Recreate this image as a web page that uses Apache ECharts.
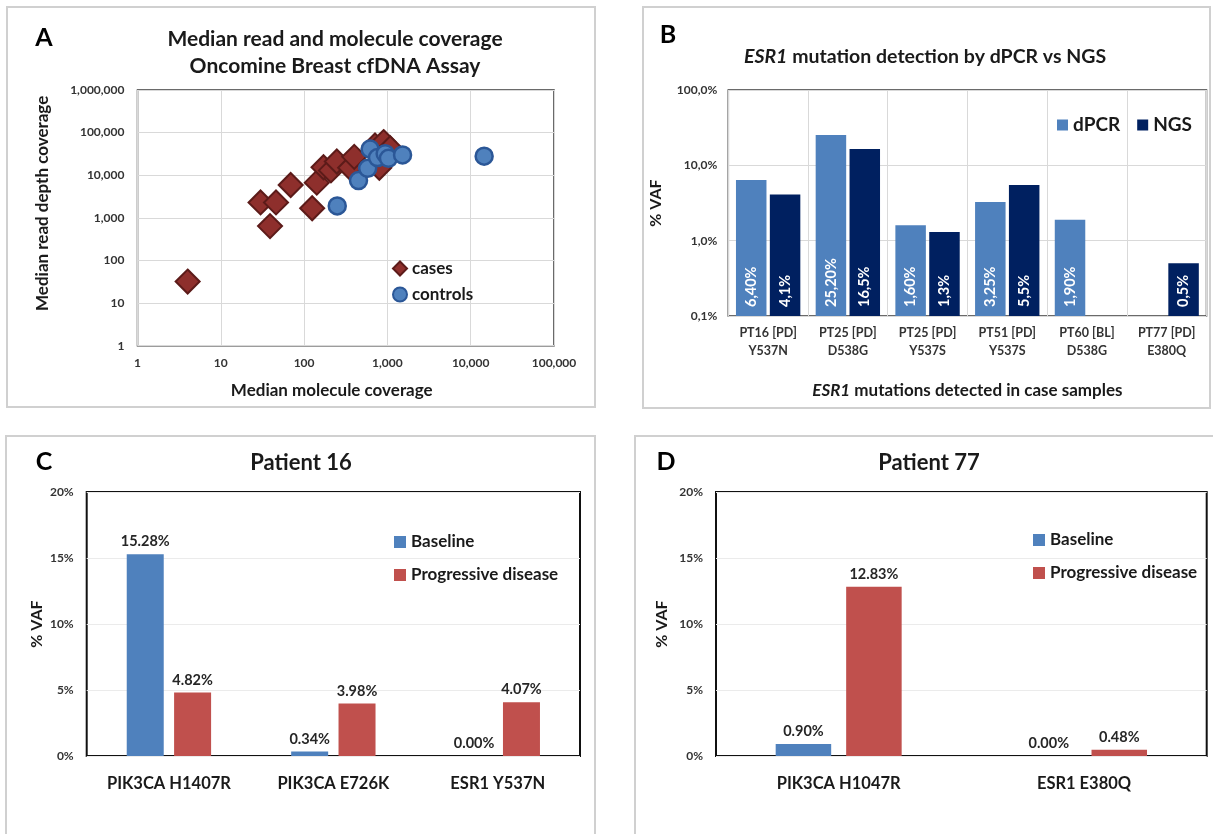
<!DOCTYPE html>
<html>
<head>
<meta charset="utf-8">
<script src="https://cdn.jsdelivr.net/npm/echarts@6/dist/echarts.min.js"></script>
<style>
  html, body { margin: 0; padding: 0; background: #fff; }
  #chart { width: 1213px; height: 834px; }
</style>
</head>
<body>
<div id="chart"></div>
<script>
// ---- Panel A: median read depth vs molecule coverage ----
const casesCoverage = [
  [4, 32], [30, 2300], [46, 2300], [39, 640], [69, 5900], [125, 1680],
  [142, 6700], [171, 15400], [210, 13000], [247, 21000], [357, 15000],
  [400, 27000], [710, 50000], [900, 60000], [1080, 43000], [800, 15000]
];
const controlsCoverage = [
  [250, 1900], [450, 7500], [580, 14500], [620, 41000], [760, 26000],
  [940, 32000], [1030, 25000], [1520, 30000], [14500, 28000]
];

// ---- Panel B: ESR1 mutation VAF, dPCR vs NGS (%) ----
const esr1Samples = [
  'PT16 [PD]\nY537N', 'PT25 [PD]\nD538G', 'PT25 [PD]\nY537S',
  'PT51 [PD]\nY537S', 'PT60 [BL]\nD538G', 'PT77 [PD]\nE380Q'
];
const dpcrVaf = [6.40, 25.20, 1.60, 3.25, 1.90, null];
const ngsVaf = [4.1, 16.5, 1.3, 5.5, null, 0.5];

// ---- Panel C: patient 16 ----
const p16Mutations = ['PIK3CA H1407R', 'PIK3CA E726K', 'ESR1 Y537N'];
const p16Baseline = [15.28, 0.34, 0.00];
const p16Progressive = [4.82, 3.98, 4.07];

// ---- Panel D: patient 77 ----
const p77Mutations = ['PIK3CA H1047R', 'ESR1 E380Q'];
const p77Baseline = [0.90, 0.00];
const p77Progressive = [12.83, 0.48];

const FONT = 'Lato';
const BLUE = '#4F81BD';
const RED = '#C0504D';
const NAVY = '#002060';
const INK = '#1a1a1a';

function withCommas(v) {
  return String(Math.round(v)).replace(/\B(?=(\d{3})+(?!\d))/g, ',');
}
function commaDecimal(v, digits) {
  return v.toFixed(digits).replace('.', ',');
}

const chart = echarts.init(document.getElementById('chart'), null, { renderer: 'canvas' });

const tickLabel = { fontFamily: FONT, fontWeight: 'bold', color: '#333', fontSize: 12 };
const boldName = { fontFamily: FONT, fontWeight: 'bold', color: INK };
const valueLabel = { show: true, position: 'top', distance: 5, fontSize: 14.5, fontWeight: 'bold', color: '#262626', fontFamily: FONT, formatter: p => p.value.toFixed(2) + '%' };

const option = {
  animation: false,
  backgroundColor: '#fff',
  textStyle: { fontFamily: FONT },
  graphic: [
    { type: 'rect', shape: { x: 7, y: 7, width: 588, height: 400 }, style: { fill: 'none', stroke: '#d0d0d0', lineWidth: 2 } },
    { type: 'rect', shape: { x: 643, y: 7, width: 567, height: 401 }, style: { fill: 'none', stroke: '#d0d0d0', lineWidth: 2 } },
    { type: 'rect', shape: { x: 6, y: 436, width: 589, height: 420 }, style: { fill: 'none', stroke: '#d0d0d0', lineWidth: 2 } },
    { type: 'rect', shape: { x: 635, y: 436, width: 600, height: 420 }, style: { fill: 'none', stroke: '#d0d0d0', lineWidth: 2 } }
  ],
  title: [
    { text: 'A', left: 44, top: 24, textAlign: 'center', padding: 0, textStyle: { fontSize: 25, fontWeight: 'bold', color: '#000', fontFamily: FONT, lineHeight: 28 } },
    { text: 'B', left: 668, top: 21, textAlign: 'center', padding: 0, textStyle: { fontSize: 25, fontWeight: 'bold', color: '#000', fontFamily: FONT, lineHeight: 28 } },
    { text: 'C', left: 44, top: 448, textAlign: 'center', padding: 0, textStyle: { fontSize: 25, fontWeight: 'bold', color: '#000', fontFamily: FONT, lineHeight: 28 } },
    { text: 'D', left: 666, top: 448, textAlign: 'center', padding: 0, textStyle: { fontSize: 25, fontWeight: 'bold', color: '#000', fontFamily: FONT, lineHeight: 28 } },
    {
      text: 'Median read and molecule coverage\nOncomine Breast cfDNA Assay',
      left: 335, top: 26, textAlign: 'center', padding: 0,
      textStyle: { fontSize: 21, fontWeight: 'bold', color: INK, fontFamily: FONT, lineHeight: 27 }
    },
    {
      text: '{i|ESR1} mutation detection by dPCR vs NGS',
      left: 925, top: 46, textAlign: 'center', padding: 0,
      textStyle: {
        fontSize: 19.5, fontWeight: 'bold', color: INK, fontFamily: FONT, lineHeight: 22,
        rich: { i: { fontSize: 19.5, fontWeight: 'bold', fontStyle: 'italic', color: INK, fontFamily: FONT, lineHeight: 22 } }
      }
    },
    { text: 'Patient 16', left: 301, top: 452, textAlign: 'center', padding: 0, textStyle: { fontSize: 22, fontWeight: 'bold', color: INK, fontFamily: FONT, lineHeight: 22 } },
    { text: 'Patient 77', left: 929, top: 452, textAlign: 'center', padding: 0, textStyle: { fontSize: 22, fontWeight: 'bold', color: INK, fontFamily: FONT, lineHeight: 22 } }
  ],
  legend: [
    {
      data: ['cases', 'controls'], orient: 'vertical', left: 392, top: 260,
      itemWidth: 14, itemHeight: 14, itemGap: 9, padding: 0,
      textStyle: { fontSize: 17, fontWeight: 'bold', color: INK, fontFamily: FONT, lineHeight: 17 }
    },
    {
      data: ['dPCR', 'NGS'], orient: 'horizontal', left: 1057, top: 114, icon: 'rect',
      itemWidth: 11, itemHeight: 11, itemGap: 17, padding: 0,
      textStyle: { fontSize: 19, fontWeight: 'bold', color: INK, fontFamily: FONT, lineHeight: 22 }
    },
    {
      data: ['Baseline', 'Progressive disease'], orient: 'vertical', left: 394, top: 533, icon: 'rect',
      itemWidth: 12, itemHeight: 12, itemGap: 15, padding: 0,
      textStyle: { fontSize: 17, fontWeight: 'bold', color: INK, fontFamily: FONT, lineHeight: 18 }
    },
    {
      data: ['Baseline', 'Progressive disease'], orient: 'vertical', left: 1033, top: 531, icon: 'rect',
      itemWidth: 12, itemHeight: 12, itemGap: 15, padding: 0,
      textStyle: { fontSize: 17, fontWeight: 'bold', color: INK, fontFamily: FONT, lineHeight: 18 }
    }
  ],
  grid: [
    { left: 137.5, top: 90, width: 416.5, height: 255.7, show: true, borderColor: '#3a3a3a', borderWidth: 1.5, backgroundColor: 'transparent', containLabel: false },
    { left: 728.3, top: 90, width: 478.2, height: 226, show: true, borderColor: '#3a3a3a', borderWidth: 1.5, backgroundColor: 'transparent', containLabel: false },
    { left: 86.7, top: 492, width: 493.3, height: 264, show: true, borderColor: '#111', borderWidth: 2, backgroundColor: 'transparent', containLabel: false },
    { left: 716, top: 492, width: 490.7, height: 264, show: true, borderColor: '#111', borderWidth: 2, backgroundColor: 'transparent', containLabel: false }
  ],
  xAxis: [
    {
      gridIndex: 0, type: 'log', logBase: 10, min: 1, max: 100000, splitNumber: 5,
      axisLine: { show: false }, axisTick: { show: false },
      splitLine: { show: true, lineStyle: { color: '#d9d9d9', width: 1 } },
      axisLabel: Object.assign({ margin: 11, formatter: withCommas }, tickLabel),
      name: 'Median molecule coverage', nameLocation: 'middle', nameGap: 36,
      nameTextStyle: Object.assign({ fontSize: 17, padding: [0, 28, 0, 0] }, boldName)
    },
    {
      gridIndex: 1, type: 'category', data: esr1Samples,
      axisLine: { show: false }, axisTick: { show: false },
      splitLine: { show: true, lineStyle: { color: '#d9d9d9', width: 1 } },
      axisLabel: { interval: 0, margin: 8, lineHeight: 18, fontSize: 12.5, fontWeight: 'bold', color: '#333', fontFamily: FONT },
      name: '{i|ESR1} mutations detected in case samples', nameLocation: 'middle', nameGap: 66,
      nameTextStyle: Object.assign({
        fontSize: 17,
        rich: { i: { fontSize: 17, fontWeight: 'bold', fontStyle: 'italic', color: INK, fontFamily: FONT } }
      }, boldName)
    },
    {
      gridIndex: 2, type: 'category', data: p16Mutations,
      axisLine: { show: false }, axisTick: { show: false },
      axisLabel: { interval: 0, margin: 19, fontSize: 16.5, fontWeight: 'bold', color: INK, fontFamily: FONT }
    },
    {
      gridIndex: 3, type: 'category', data: p77Mutations,
      axisLine: { show: false }, axisTick: { show: false },
      axisLabel: { interval: 0, margin: 19, fontSize: 16.5, fontWeight: 'bold', color: INK, fontFamily: FONT }
    }
  ],
  yAxis: [
    {
      gridIndex: 0, type: 'log', logBase: 10, min: 1, max: 1000000, splitNumber: 6,
      axisLine: { show: false }, axisTick: { show: false },
      splitLine: { show: true, lineStyle: { color: '#d9d9d9', width: 1 } },
      axisLabel: Object.assign({ margin: 13, formatter: withCommas }, tickLabel),
      name: 'Median read depth coverage', nameLocation: 'middle', nameGap: 86,
      nameTextStyle: Object.assign({ fontSize: 17, padding: [0, 0, 0, 29] }, boldName)
    },
    {
      gridIndex: 1, type: 'log', logBase: 10, min: 0.1, max: 100, splitNumber: 3, startValue: 0.1,
      axisLine: { show: false }, axisTick: { show: false },
      splitLine: { show: true, lineStyle: { color: '#d9d9d9', width: 1 } },
      axisLabel: Object.assign({ margin: 11, formatter: v => commaDecimal(v, 1) + '%' }, tickLabel),
      name: '% VAF', nameLocation: 'middle', nameGap: 64,
      nameTextStyle: Object.assign({ fontSize: 16 }, boldName)
    },
    {
      gridIndex: 2, type: 'value', min: 0, max: 20, interval: 5,
      axisLine: { show: false }, axisTick: { show: false },
      splitLine: { show: true, lineStyle: { color: '#ebebeb', width: 1 } },
      axisLabel: Object.assign({ margin: 13, formatter: '{value}%' }, tickLabel),
      name: '% VAF', nameLocation: 'middle', nameGap: 42,
      nameTextStyle: Object.assign({ fontSize: 16 }, boldName)
    },
    {
      gridIndex: 3, type: 'value', min: 0, max: 20, interval: 5,
      axisLine: { show: false }, axisTick: { show: false },
      splitLine: { show: true, lineStyle: { color: '#ebebeb', width: 1 } },
      axisLabel: Object.assign({ margin: 13, formatter: '{value}%' }, tickLabel),
      name: '% VAF', nameLocation: 'middle', nameGap: 46,
      nameTextStyle: Object.assign({ fontSize: 16 }, boldName)
    }
  ],
  series: [
    {
      name: 'cases', type: 'scatter', xAxisIndex: 0, yAxisIndex: 0,
      data: casesCoverage, symbol: 'diamond', symbolSize: 24,
      itemStyle: { color: '#8E2F2C', borderColor: '#5C1B19', borderWidth: 2, opacity: 1 }
    },
    {
      name: 'controls', type: 'scatter', xAxisIndex: 0, yAxisIndex: 0,
      data: controlsCoverage, symbol: 'circle', symbolSize: 17,
      itemStyle: { color: BLUE, borderColor: '#2B5797', borderWidth: 2.5, opacity: 1 }
    },
    {
      name: 'dPCR', type: 'bar', xAxisIndex: 1, yAxisIndex: 1,
      data: dpcrVaf, barWidth: 30.5, barGap: '11%',
      itemStyle: { color: BLUE },
      label: {
        show: true, position: 'insideBottom', rotate: 90, align: 'left', verticalAlign: 'middle', distance: 9,
        color: '#fff', fontSize: 14.5, fontWeight: 'bold', fontFamily: FONT,
        formatter: p => commaDecimal(p.value, 2) + '%'
      }
    },
    {
      name: 'NGS', type: 'bar', xAxisIndex: 1, yAxisIndex: 1,
      data: ngsVaf, barWidth: 30.5, barGap: '11%',
      itemStyle: { color: NAVY },
      label: {
        show: true, position: 'insideBottom', rotate: 90, align: 'left', verticalAlign: 'middle', distance: 9,
        color: '#fff', fontSize: 14.5, fontWeight: 'bold', fontFamily: FONT,
        formatter: p => commaDecimal(p.value, 1) + '%'
      }
    },
    {
      name: 'Baseline', type: 'bar', xAxisIndex: 2, yAxisIndex: 2,
      data: p16Baseline, barWidth: 37, barGap: '28%',
      itemStyle: { color: BLUE }, label: valueLabel
    },
    {
      name: 'Progressive disease', type: 'bar', xAxisIndex: 2, yAxisIndex: 2,
      data: p16Progressive, barWidth: 37, barGap: '28%',
      itemStyle: { color: RED }, label: valueLabel
    },
    {
      name: 'Baseline', type: 'bar', xAxisIndex: 3, yAxisIndex: 3,
      data: p77Baseline, barWidth: 55.5, barGap: '27%',
      itemStyle: { color: BLUE }, label: valueLabel
    },
    {
      name: 'Progressive disease', type: 'bar', xAxisIndex: 3, yAxisIndex: 3,
      data: p77Progressive, barWidth: 55.5, barGap: '27%',
      itemStyle: { color: RED }, label: valueLabel
    }
  ]
};

chart.setOption(option);
</script>
</body>
</html>
